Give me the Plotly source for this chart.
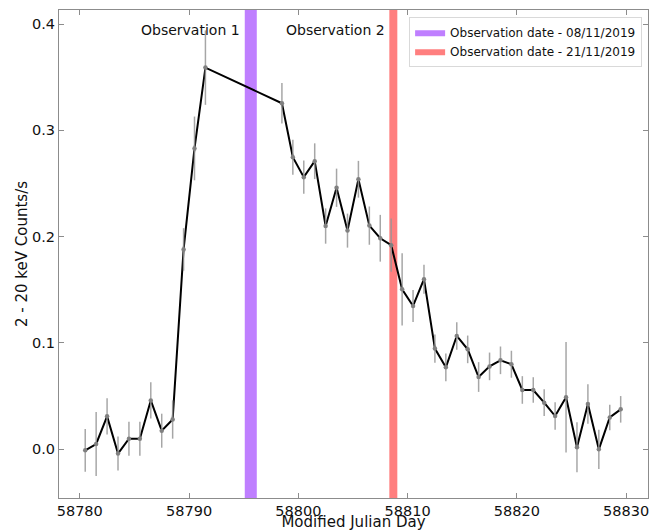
import plotly.graph_objects as go

# ---- data ----
mjd = [58780.5, 58781.5, 58782.5, 58783.5, 58784.5, 58785.5, 58786.5, 58787.5,
       58788.5, 58789.5, 58790.5, 58791.5,
       58798.5, 58799.5, 58800.5, 58801.5, 58802.5, 58803.5, 58804.5, 58805.5,
       58806.5, 58807.5, 58808.5, 58809.5, 58810.5, 58811.5, 58812.5, 58813.5,
       58814.5, 58815.5, 58816.5, 58817.5, 58818.5, 58819.5, 58820.5, 58821.5,
       58822.5, 58823.5, 58824.5, 58825.5, 58826.5, 58827.5, 58828.5, 58829.5]
rate = [-0.001, 0.005, 0.031, -0.004, 0.010, 0.010, 0.046, 0.0175,
        0.028, 0.188, 0.283, 0.359,
        0.3255, 0.2747, 0.256, 0.271, 0.210, 0.246, 0.2057, 0.254,
        0.2104, 0.1985, 0.192, 0.1505, 0.1348, 0.160, 0.0947, 0.0771,
        0.1066, 0.094, 0.068, 0.078, 0.0837, 0.080, 0.0558, 0.0558,
        0.0439, 0.0313, 0.049, 0.0019, 0.0426, 0.000, 0.030, 0.0376]
rate_err = [0.020, 0.030, 0.017, 0.016, 0.016, 0.016, 0.017, 0.016,
            0.018, 0.020, 0.030, 0.035,
            0.019, 0.0165, 0.0157, 0.0168, 0.0166, 0.018, 0.016, 0.0173,
            0.018, 0.022, 0.025, 0.034, 0.015, 0.0136, 0.0133, 0.013,
            0.013, 0.013, 0.014, 0.013, 0.013, 0.0127, 0.013, 0.012,
            0.0125, 0.013, 0.052, 0.0235, 0.0185, 0.0185, 0.012, 0.0125]

obs_names = ["Observation date - 08/11/2019", "Observation date - 21/11/2019"]
obs_labels = ["Observation 1", "Observation 2"]
obs_start = [58795.1, 58808.33]
obs_end = [58796.2, 58809.06]
obs_colors = ["rgb(191,127,255)", "rgb(255,127,127)"]

x_range = [58778.1, 58832.0]
y_range = [-0.0458, 0.4132]
label_y = 0.3945

FONT = "DejaVu Sans"
AX = "#8c8c8c"

fig = go.Figure()

shapes = []
annotations = []
for name, lab, a, b, c in zip(obs_names, obs_labels, obs_start, obs_end, obs_colors):
    shapes.append(dict(type="rect", xref="x", yref="y domain", x0=a, x1=b, y0=0, y1=1,
                       fillcolor=c, line=dict(width=0), layer="below"))
    fig.add_trace(go.Scatter(x=[None], y=[None], mode="lines", fill="toself",
                             fillcolor=c, line=dict(width=0, color=c), name=name,
                             showlegend=True))
    annotations.append(dict(x=a - 0.25, y=label_y, xref="x", yref="y", text=lab,
                            showarrow=False, xanchor="right", yanchor="middle",
                            font=dict(family=FONT, size=14, color="#111")))

fig.add_trace(go.Scatter(x=mjd, y=rate, mode="lines",
                         line=dict(color="black", width=2), showlegend=False,
                         hoverinfo="skip"))
fig.add_trace(go.Scatter(x=mjd, y=rate, mode="markers",
                         marker=dict(color="#808080", size=4.5),
                         error_y=dict(type="data", array=rate_err, color="rgba(150,150,150,0.85)",
                                      thickness=1.5, width=0),
                         showlegend=False))

axis_common = dict(showline=True, linecolor=AX, linewidth=1, mirror="allticks",
                   ticks="inside", ticklen=5, tickcolor=AX, tickwidth=1,
                   showgrid=False, zeroline=False, automargin=False,
                   tickfont=dict(family=FONT, size=14.5, color="#111"))

# page body adds an 8px margin, so the figure is sized to fit the window
fig.update_layout(
    width=654, height=523,
    margin=dict(l=51, r=14, t=2, b=33),
    paper_bgcolor="white", plot_bgcolor="white",
    font=dict(family=FONT, color="#111"),
    shapes=shapes, annotations=annotations,
    xaxis=dict(range=x_range, tick0=58780, dtick=10, tickformat="d",
               title=dict(text="Modified Julian Day", font=dict(family=FONT, size=15), standoff=4),
               **axis_common),
    yaxis=dict(range=y_range, tick0=0, dtick=0.1, tickformat=".1f",
               title=dict(text="2 - 20 keV Counts/s", font=dict(family=FONT, size=15), standoff=0),
               **axis_common),
    legend=dict(x=0.99, y=0.986, xanchor="right", yanchor="top",
                bgcolor="white", bordercolor="#d9d9d9", borderwidth=1,
                font=dict(family=FONT, size=12, color="#111"),
                tracegroupgap=0, itemwidth=30),
)

fig.write_html("out.html")
